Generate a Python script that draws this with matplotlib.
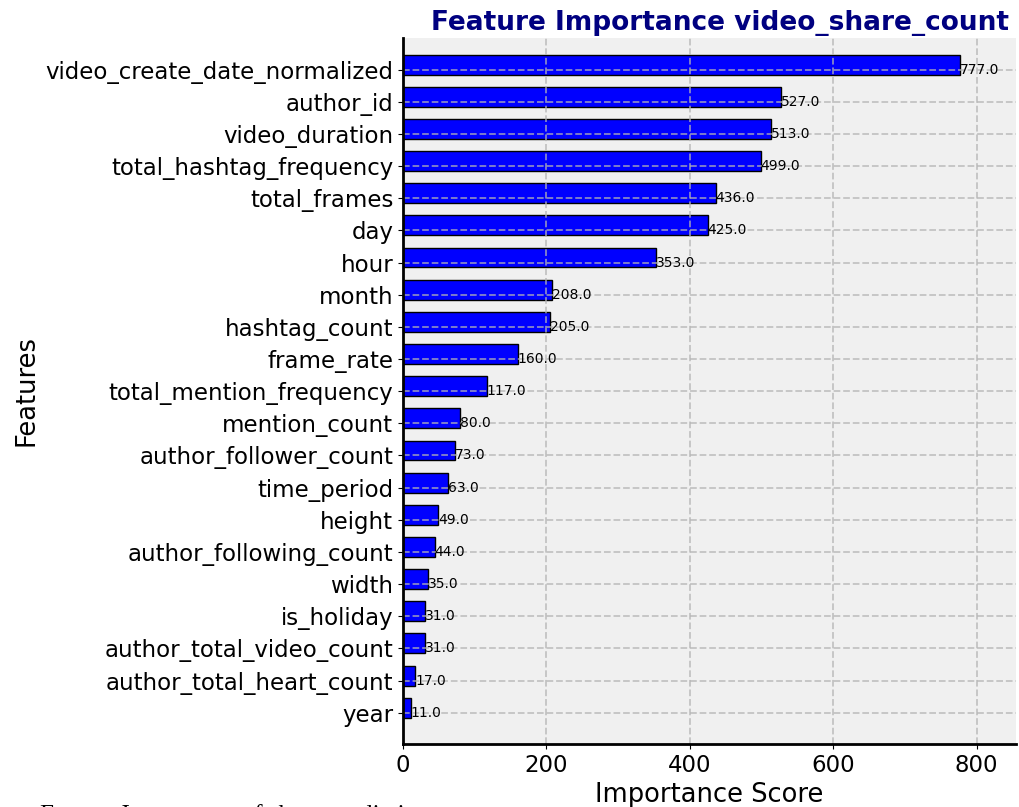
import matplotlib
matplotlib.use('Agg')
import matplotlib.pyplot as plt

# Feature importance (top -> bottom as shown)
features = ['video_create_date_normalized', 'author_id', 'video_duration',
            'total_hashtag_frequency', 'total_frames', 'day', 'hour', 'month',
            'hashtag_count', 'frame_rate', 'total_mention_frequency',
            'mention_count', 'author_follower_count', 'time_period', 'height',
            'author_following_count', 'width', 'is_holiday',
            'author_total_video_count', 'author_total_heart_count', 'year']
scores = [777.0, 527.0, 513.0, 499.0, 436.0, 425.0, 353.0, 208.0, 205.0,
          160.0, 117.0, 80.0, 73.0, 63.0, 49.0, 44.0, 35.0, 31.0, 31.0, 17.0, 11.0]

# plot bottom-up so the largest ends at the top
feat_plot = features[::-1]
score_plot = scores[::-1]

fig = plt.figure(figsize=(10.19, 8.07), dpi=100)
ax = fig.add_axes([0.3955, 0.0781, 0.6016, 0.8748])
ax.set_facecolor('#f0f0f0')

ypos = list(range(len(feat_plot)))
# bars sit slightly above their tick in the original
ax.barh([y - 0.155 for y in ypos], score_plot, height=0.62, align='edge',
        color='blue', edgecolor='black', linewidth=1, zorder=2)
for y, v in zip(ypos, score_plot):
    ax.text(v, y, f'{v:.1f}', va='center', ha='left', fontsize=10, zorder=4)

ax.set_yticks(ypos)
ax.set_yticklabels(feat_plot, fontsize=16.5)
ax.tick_params(axis='x', labelsize=16.5)
ax.set_xlim(0, 855)
ax.set_ylim(-0.97, len(feat_plot) - 0.02)
ax.set_xticks([0, 200, 400, 600, 800])
ax.grid(True, linestyle='--', color='#b4b4b4', alpha=0.75, linewidth=1.3, zorder=3)
ax.set_axisbelow(False)

for s in ['top', 'right']:
    ax.spines[s].set_visible(False)
for s in ['left', 'bottom']:
    ax.spines[s].set_linewidth(2)
    ax.spines[s].set_zorder(5)

ax.set_xlabel('Importance Score', fontsize=18.5)
ax.set_ylabel('Features', fontsize=18.5)
ax.set_title('Feature Importance video_share_count', fontsize=19,
             fontweight='bold', color='navy', x=0.517)

# caption of the source document, cut off at the bottom of the screenshot
fig.text(0.039, -0.0185, 'Feature Importance of share prediction',
         fontsize=18, family='Liberation Serif', ha='left', va='baseline')

fig.savefig('out.png', dpi=100)
